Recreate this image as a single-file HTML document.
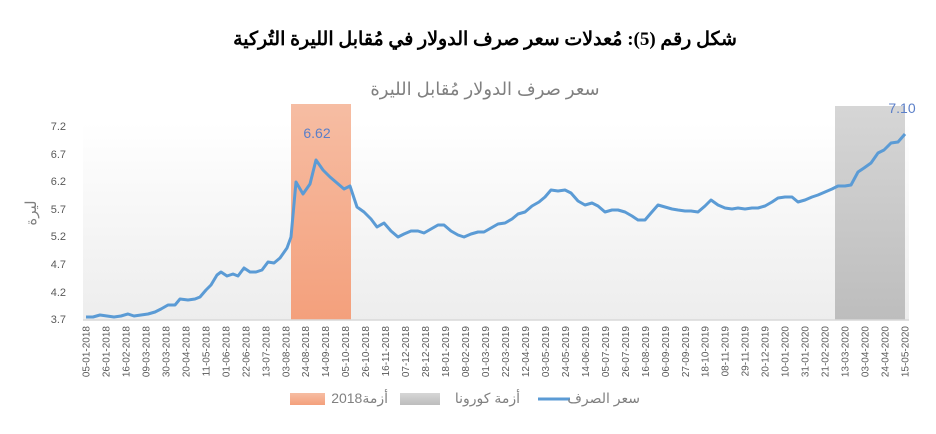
<!DOCTYPE html>
<html><head><meta charset="utf-8"><style>
body{margin:0;background:#fff;width:936px;height:429px;overflow:hidden}
</style></head><body>
<svg width="936" height="429" xmlns="http://www.w3.org/2000/svg" font-family="'Liberation Sans','DejaVu Sans',sans-serif">
<defs>
<linearGradient id="bg" x1="0" y1="0" x2="0" y2="1"><stop offset="0" stop-color="#ffffff"/><stop offset="1" stop-color="#ededed"/></linearGradient>
<linearGradient id="or" x1="0" y1="0" x2="0" y2="1"><stop offset="0" stop-color="#f6bda3"/><stop offset="1" stop-color="#f4a07c"/></linearGradient>
<linearGradient id="gr" x1="0" y1="0" x2="0" y2="1"><stop offset="0" stop-color="#d6d6d6"/><stop offset="1" stop-color="#bdbdbd"/></linearGradient>
</defs>
<text x="485" y="45" text-anchor="middle" font-family="'Liberation Serif','DejaVu Serif',serif" font-weight="bold" font-size="19" fill="#000">شكل رقم (5): مُعدلات سعر صرف الدولار في مُقابل الليرة التُركية</text>
<text x="485" y="95" text-anchor="middle" font-size="18" fill="#808080">سعر صرف الدولار مُقابل الليرة</text>
<rect x="83" y="122" width="826" height="198" fill="url(#bg)"/>
<rect x="291" y="104" width="60" height="216" fill="url(#or)"/>
<rect x="835" y="106" width="70" height="214" fill="url(#gr)"/>
<line x1="83" y1="320" x2="909" y2="320" stroke="#d9d9d9" stroke-width="1.5"/>
<g font-size="11" fill="#595959" text-anchor="end">
<text x="66" y="130">7.2</text><text x="66" y="158">6.7</text><text x="66" y="185">6.2</text><text x="66" y="213">5.7</text><text x="66" y="240">5.2</text><text x="66" y="268">4.7</text><text x="66" y="296">4.2</text><text x="66" y="323">3.7</text>
</g>
<text transform="translate(36,213) rotate(-90)" text-anchor="middle" font-size="15" fill="#808080">ليرة</text>
<polyline fill="none" stroke="#5b9bd5" stroke-width="3" stroke-linejoin="round" points="86,317 93,317 100,315 107,316 114,317 121,316 128,314 134,316 141,315 148,314 155,312 161,309 168,305 175,305 180,299 188,300 195,299 200,297 206,290 211,285 217,275 221,272 227,276 233,274 238,276 244,268 250,272 256,272 262,270 268,262 274,263 280,258 287,248 291,237 296,182 303,194 310,184 316,160 323,170 330,177 337,183 344,189 350,186 357,207 364,212 371,219 377,227 384,223 391,231 398,237 404,234 411,231 418,231 424,233 431,229 438,225 444,225 451,231 458,235 464,237 471,234 478,232 484,232 491,228 498,224 505,223 512,219 518,214 525,212 532,206 539,202 545,197 551,190 558,191 565,190 571,193 578,201 585,205 592,203 598,206 605,212 612,210 618,210 625,212 632,216 638,220 645,220 651,213 658,205 665,207 672,209 678,210 685,211 691,211 698,212 705,206 711,200 718,205 725,208 732,209 738,208 745,209 752,208 758,208 765,206 772,202 778,198 785,197 792,197 798,202 805,200 812,197 818,195 825,192 832,189 838,186 845,186 851,185 858,172 864,168 871,163 878,153 884,150 891,143 898,142 905,134"/>
<text x="317" y="138" text-anchor="middle" font-size="14" fill="#5b7fc8">6.62</text>
<text x="902" y="113" text-anchor="middle" font-size="14" fill="#5b7fc8">7.10</text>
<g font-size="10" fill="#595959" text-anchor="end" id="xl"></g>
<rect x="290" y="393" width="35" height="12" fill="url(#or)"/>
<text x="388" y="403" text-anchor="end" font-size="14" fill="#808080">أزمة2018</text>
<rect x="400" y="393" width="40" height="12" fill="url(#gr)"/>
<text x="520" y="403" text-anchor="end" font-size="14" fill="#808080">أزمة كورونا</text>
<line x1="538" y1="399" x2="570" y2="399" stroke="#5b9bd5" stroke-width="3"/>
<text x="640" y="403" text-anchor="end" font-size="14" fill="#808080">سعر الصرف</text>
</svg>
<script>
var labels="05-01-2018 26-01-2018 16-02-2018 09-03-2018 30-03-2018 20-04-2018 11-05-2018 01-06-2018 22-06-2018 13-07-2018 03-08-2018 24-08-2018 14-09-2018 05-10-2018 26-10-2018 16-11-2018 07-12-2018 28-12-2018 18-01-2019 08-02-2019 01-03-2019 22-03-2019 12-04-2019 03-05-2019 24-05-2019 14-06-2019 05-07-2019 26-07-2019 16-08-2019 06-09-2019 27-09-2019 18-10-2019 08-11-2019 29-11-2019 20-12-2019 10-01-2020 31-01-2020 21-02-2020 13-03-2020 03-04-2020 24-04-2020 15-05-2020".split(" ");
var g=document.getElementById("xl"),ns="http://www.w3.org/2000/svg",n=labels.length;
for(var i=0;i<n;i++){var x=86+i*(905-86)/(n-1);var t=document.createElementNS(ns,"text");t.setAttribute("transform","translate("+(x+3.5)+",326) rotate(-90)");t.textContent=labels[i];g.appendChild(t);}
</script>
</body></html>
